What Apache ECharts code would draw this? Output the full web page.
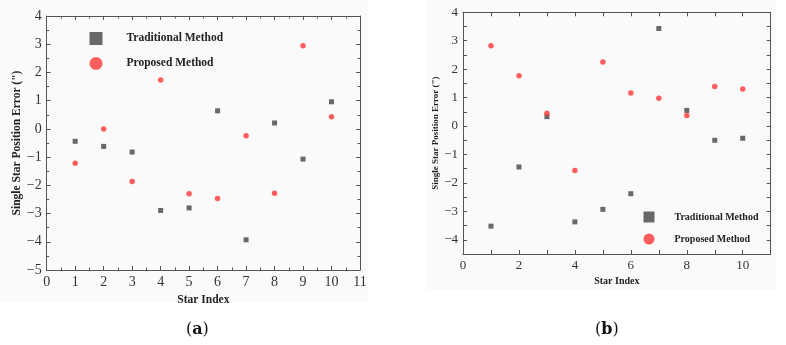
<!DOCTYPE html>
<html>
<head>
<meta charset="utf-8">
<script src="https://cdn.jsdelivr.net/npm/echarts@6/dist/echarts.min.js"></script>
<style>
  html, body { margin: 0; padding: 0; background: #fff; }
  #chart { width: 786px; height: 345px; }
</style>
</head>
<body>
<div id="chart"></div>
<script>
const starIndex = [1, 2, 3, 4, 5, 6, 7, 8, 9, 10];

// panel (a)
const traditionalA = [-0.44, -0.62, -0.82, -2.89, -2.80, 0.64, -3.93, 0.21, -1.07, 0.96];
const proposedA = [-1.22, 0.0, -1.86, 1.73, -2.30, -2.47, -0.24, -2.28, 2.95, 0.43];

// panel (b)
const traditionalB = [-3.52, -1.44, 0.33, -3.37, -2.93, -2.38, 3.43, 0.55, -0.50, -0.43];
const proposedB = [2.82, 1.77, 0.45, -1.56, 2.25, 1.16, 0.98, 0.37, 1.39, 1.30];

const seriesNames = ['Traditional Method', 'Proposed Method'];

const serif = 'Liberation Serif';
const axisColor = '#555';
const squareColor = '#444';
const circleColor = '#ff3636';

const pairs = ys => starIndex.map((x, i) => [x, ys[i]]);
const minus = v => String(v).replace('-', '\u2212');

function xAxes(gridIndex, interval, labelFmt, minor, fontSize) {
  const base = {
    gridIndex, type: 'value', min: 0, max: 11, interval,
    axisLine: {onZero: false, lineStyle: {color: axisColor, width: 1}},
    axisTick: {inside: true, length: 4, lineStyle: {color: axisColor}},
    minorTick: {show: minor, splitNumber: 2, length: 2.5, lineStyle: {color: axisColor}},
    splitLine: {show: false}
  };
  return [
    Object.assign({}, base, {
      position: 'bottom',
      axisLabel: {margin: 5, color: '#333', fontFamily: serif, fontSize, formatter: labelFmt},
      name: 'Star Index',
      nameLocation: 'middle',
      nameGap: fontSize === 14 ? 21 : 22,
      nameTextStyle: {fontFamily: serif, fontWeight: 'bold', fontSize: fontSize === 14 ? 11.5 : 10, color: '#222'}
    }),
    Object.assign({}, base, {position: 'top', axisLabel: {show: false}})
  ];
}

function yAxes(gridIndex, min, interval, labelFmt, minor, fontSize, nameSize, nameGap) {
  const base = {
    gridIndex, type: 'value', min, max: 4, interval,
    axisLine: {show: true, onZero: false, lineStyle: {color: axisColor, width: 1}},
    axisTick: {show: true, inside: true, length: 4, lineStyle: {color: axisColor}},
    minorTick: {show: minor, splitNumber: 2, length: 2.5, lineStyle: {color: axisColor}},
    splitLine: {show: false}
  };
  return [
    Object.assign({}, base, {
      position: 'left',
      axisLabel: {margin: 5, color: '#333', fontFamily: serif, fontSize, formatter: labelFmt},
      name: 'Single Star Position Error (")',
      nameLocation: 'middle',
      nameGap,
      nameTextStyle: {fontFamily: serif, fontWeight: 'bold', fontSize: nameSize, color: '#222'}
    }),
    Object.assign({}, base, {position: 'right', axisLabel: {show: false}})
  ];
}

const fmtA = v => minus(v);
const fmtBx = v => (v % 2 === 0 && v <= 10) ? v : '';
const fmtBy = v => Number.isInteger(v) && v > -4.5 ? minus(v) : '';

function legendFor(left, top, size, gap, pad, fontSize) {
  return {
    orient: 'vertical', left, top,
    itemWidth: size, itemHeight: size, itemGap: gap,
    selectedMode: false,
    data: [
      {name: seriesNames[0], icon: 'rect'},
      {name: seriesNames[1], icon: 'circle'}
    ],
    textStyle: {fontFamily: serif, fontWeight: 'bold', fontSize, color: '#222', padding: [0, 0, 0, pad]}
  };
}

function scatter(name, data, axisIdx, symbol, color, size) {
  return {
    name, type: 'scatter', data: pairs(data),
    xAxisIndex: axisIdx, yAxisIndex: axisIdx,
    symbol, symbolSize: size,
    itemStyle: {color},
    z: symbol === 'circle' ? 3 : 2
  };
}

const chart = echarts.init(document.getElementById('chart'), null, {renderer: 'canvas'});
chart.setOption({
  backgroundColor: '#fff',
  animation: false,
  graphic: [
    {type: 'rect', shape: {x: 0, y: 0, width: 368, height: 302}, style: {fill: '#fafafa'}, z: -10},
    {type: 'rect', shape: {x: 426, y: 0, width: 350, height: 291}, style: {fill: '#fafafa'}, z: -10},
    {
      type: 'text', left: 186, top: 322,
      style: {
        text: '{p|(}{b|a}{p|)}',
        rich: {
          p: {fontFamily: 'DejaVu Serif', fontSize: 16, fill: '#111'},
          b: {fontFamily: 'DejaVu Serif', fontSize: 16, fontWeight: 'bold', fill: '#111'}
        }
      }
    },
    {
      type: 'text', left: 595, top: 322,
      style: {
        text: '{p|(}{b|b}{p|)}',
        rich: {
          p: {fontFamily: 'DejaVu Serif', fontSize: 16, fill: '#111'},
          b: {fontFamily: 'DejaVu Serif', fontSize: 16, fontWeight: 'bold', fill: '#111'}
        }
      }
    }
  ],
  legend: [
    legendFor(84.5, 27, 13, 12, 19, 11.5),
    legendFor(638.5, 206.5, 11, 11, 15, 10)
  ],
  grid: [
    {left: 46.7, top: 16, width: 313.3, height: 254},
    {left: 463, top: 12.3, width: 307.7, height: 241.7}
  ],
  xAxis: [
    ...xAxes(0, 1, fmtA, true, 14),
    ...xAxes(1, 1, fmtBx, false, 13)
  ],
  yAxis: [
    ...yAxes(0, -5, 1, fmtA, true, 14, 11.5, 20),
    ...yAxes(1, -4.5, 0.5, fmtBy, false, 13, 9, 19)
  ],
  series: [
    scatter(seriesNames[0], traditionalA, 0, 'rect', squareColor, 5),
    scatter(seriesNames[1], proposedA, 0, 'circle', circleColor, 5.5),
    scatter(seriesNames[0], traditionalB, 2, 'rect', squareColor, 5),
    scatter(seriesNames[1], proposedB, 2, 'circle', circleColor, 5.5)
  ]
});
</script>
</body>
</html>
